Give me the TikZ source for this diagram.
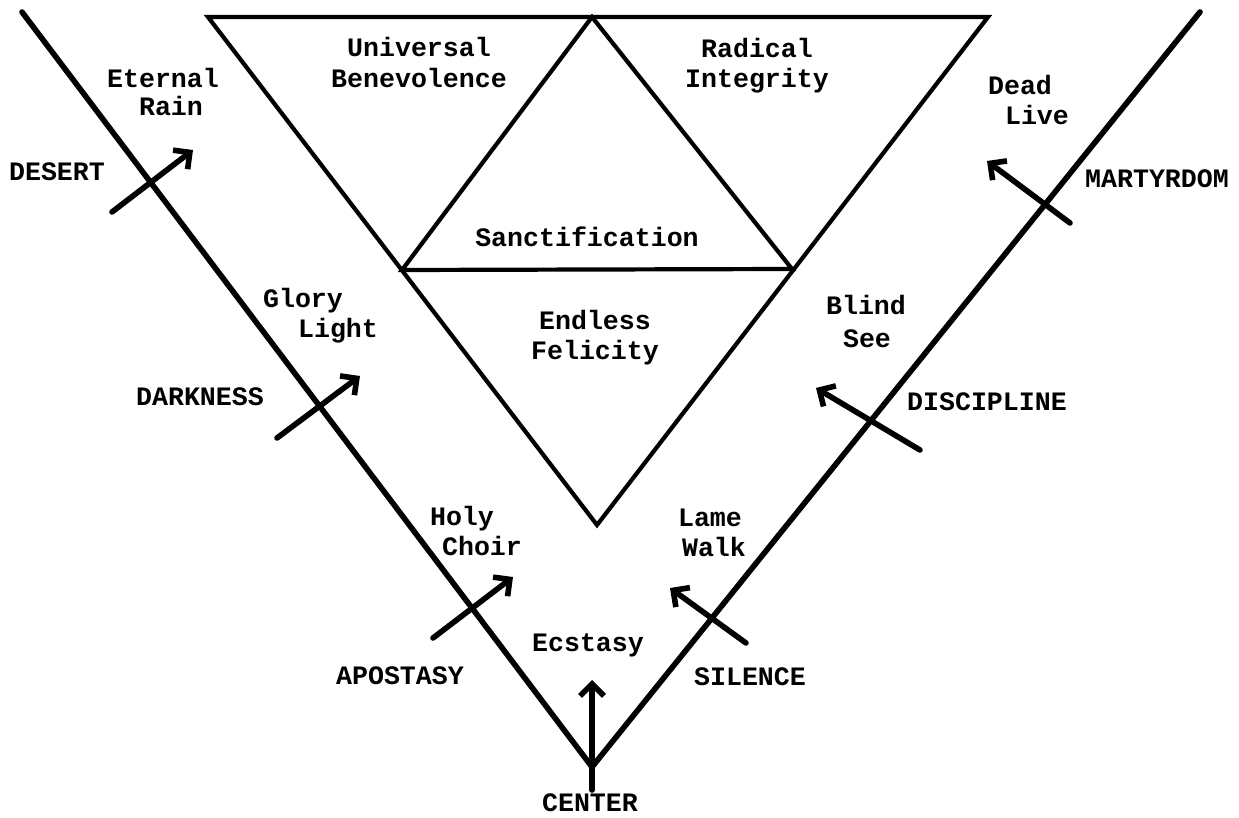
\documentclass[tikz,border=0pt]{standalone}
\usepackage{fontspec}
\setmonofont{Liberation Mono}
\usetikzlibrary{arrows.meta}
\begin{document}
\begin{tikzpicture}[x=0.5pt,y=-0.5pt,
  lbl/.style={font=\ttfamily\bfseries\fontsize{13.3pt}{15pt}\selectfont, inner sep=0pt, anchor=base},
  outer/.style={line width=2.8pt, line cap=round, line join=round},
  tri/.style={line width=2.1pt, line join=miter},
  arr/.style={line width=2.8pt, line cap=round, -{Straight Barb[length=6pt,width=12pt,line width=2.8pt]}}]
\useasboundingbox (0,0) rectangle (1239,818);
% vertices
\coordinate (vl) at (22,12);
\coordinate (vr) at (1200,12);
\coordinate (va) at (592,767);
\coordinate (vb) at (592,790);
\coordinate (tl) at (208,17);
\coordinate (tr) at (988,17);
\coordinate (tb) at (597,525);
\coordinate (ia) at (592,17);
\coordinate (il) at (402,270);
\coordinate (ir) at (792,269);
% V
\draw[outer] (vl) -- (va) -- (vr);
% triangles
\draw[tri] (tl) -- (tr) -- (tb) -- cycle;
\draw[tri] (ia) -- (il) -- (ir) -- cycle;
% labels
\node[lbl] (ub1) at (419,57) {Universal};
\node[lbl] (ub2) at (419,88) {Benevolence};
\node[lbl] (ri1) at (757,58) {Radical};
\node[lbl] (ri2) at (757,88) {Integrity};
\node[lbl] (sa) at (587,247) {Sanctification};
\node[lbl] (ef1) at (595,330) {Endless};
\node[lbl] (ef2) at (595,360) {Felicity};
\node[lbl] (er1) at (163,88) {Eternal};
\node[lbl] (er2) at (171,116) {Rain};
\node[lbl] (gl1) at (303,308) {Glory};
\node[lbl] (gl2) at (338,338) {Light};
\node[lbl] (hc1) at (462,526) {Holy};
\node[lbl] (hc2) at (482,556) {Choir};
\node[lbl] (ec) at (588,652) {Ecstasy};
\node[lbl] (ce) at (590,812) {CENTER};
\node[lbl] (lw1) at (710,527) {Lame};
\node[lbl] (lw2) at (714,557) {Walk};
\node[lbl] (bs1) at (866,315) {Blind};
\node[lbl] (bs2) at (867,348) {See};
\node[lbl] (dl1) at (1020,95) {Dead};
\node[lbl] (dl2) at (1037,125) {Live};
\node[lbl] (de) at (57,181) {DESERT};
\node[lbl] (da) at (200,406) {DARKNESS};
\node[lbl] (ap) at (400,684) {APOSTASY};
\node[lbl] (si) at (750,686) {SILENCE};
\node[lbl] (di) at (987,411) {DISCIPLINE};
\node[lbl] (ma) at (1157,188) {MARTYRDOM};
% arrow endpoints
\coordinate (a1s) at (112,212); \coordinate (a1e) at (193,150);
\coordinate (a2s) at (277,438); \coordinate (a2e) at (360,376);
\coordinate (a3s) at (433,638); \coordinate (a3e) at (513,577);
\coordinate (a4e) at (592,680);
\coordinate (a5s) at (746,643); \coordinate (a5e) at (670,588);
\coordinate (a6s) at (920,450); \coordinate (a6e) at (816,388);
\coordinate (a7s) at (1070,223); \coordinate (a7e) at (987,161);
\draw[arr] (a1s) -- (a1e);
\draw[arr] (a2s) -- (a2e);
\draw[arr] (a3s) -- (a3e);
\draw[arr] (vb) -- (a4e);
\draw[arr] (a5s) -- (a5e);
\draw[arr] (a6s) -- (a6e);
\draw[arr] (a7s) -- (a7e);
\end{tikzpicture}
\end{document}
